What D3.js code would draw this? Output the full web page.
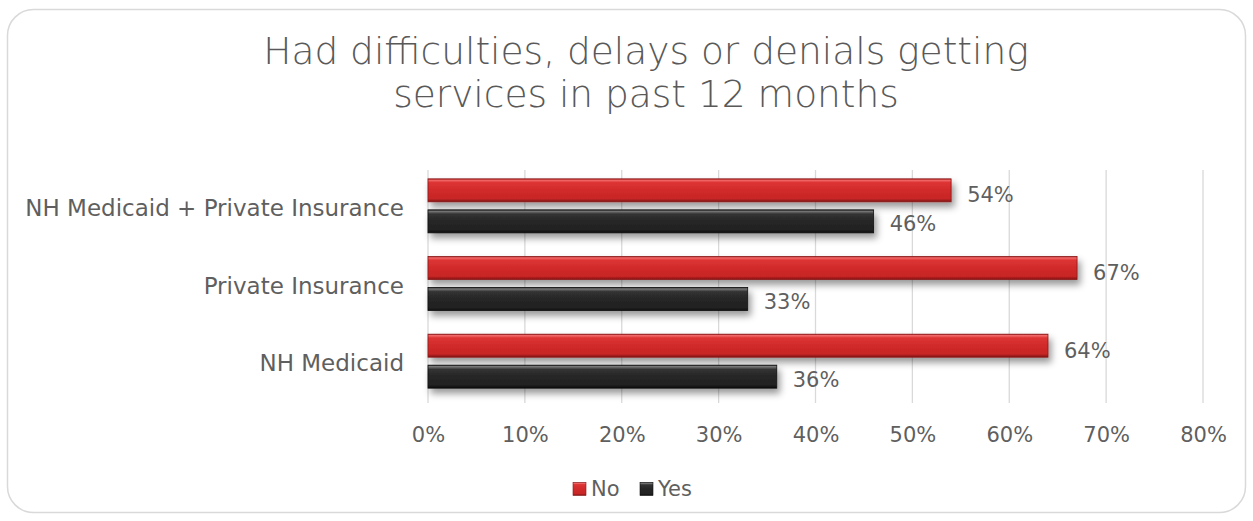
<!DOCTYPE html>
<html>
<head>
<meta charset="utf-8">
<script src="https://cdn.jsdelivr.net/npm/d3@7"></script>
<style>
  html, body { margin: 0; padding: 0; background: #fff; }
  svg { display: block; }
  text { font-family: "DejaVu Sans", "Liberation Sans", sans-serif; fill: #595959; }
</style>
</head>
<body>
<svg id="chart" width="1253" height="521"></svg>
<script>
// Survey responses by coverage type (share of respondents)
const categories = ["NH Medicaid + Private Insurance", "Private Insurance", "NH Medicaid"];
const seriesNames = ["No", "Yes"];
const noValues = [0.54, 0.67, 0.64];
const yesValues = [0.46, 0.33, 0.36];
const tickValues = [0, 0.1, 0.2, 0.3, 0.4, 0.5, 0.6, 0.7, 0.8];
const titleLines = ["Had difficulties, delays or denials getting", "services in past 12 months"];

const svg = d3.select("#chart");
const W = 1253, H = 521;

// Rounded chart frame
svg.append("rect")
  .attr("x", 7.5).attr("y", 9.5)
  .attr("width", W - 15).attr("height", H - 18)
  .attr("rx", 26).attr("ry", 26)
  .attr("fill", "#fff").attr("stroke", "#d9d9d9").attr("stroke-width", 1.5);

const defs = svg.append("defs");
function barGradient(id, stops) {
  const g = defs.append("linearGradient").attr("id", id)
    .attr("x1", 0).attr("y1", 0).attr("x2", 0).attr("y2", 1);
  stops.forEach(([o, c]) => g.append("stop").attr("offset", o).attr("stop-color", c));
}
barGradient("gNo", [[0, "#a81c1c"], [0.06, "#f26a6a"], [0.16, "#dd3434"], [0.5, "#d12a2a"], [0.86, "#c82626"], [1, "#7d1414"]]);
barGradient("gYes", [[0, "#1a1a1a"], [0.06, "#7a7a7a"], [0.18, "#333"], [0.5, "#262626"], [0.86, "#222"], [1, "#0d0d0d"]]);

const shadow = defs.append("filter").attr("id", "shadow")
  .attr("x", "-5%").attr("y", "-30%").attr("width", "115%").attr("height", "190%");
shadow.append("feDropShadow").attr("dx", 3).attr("dy", 5).attr("stdDeviation", 3.5)
  .attr("flood-color", "#000").attr("flood-opacity", 0.4);

const x = d3.scaleLinear().domain([0, 0.8]).range([428, 1203]);
const y = d3.scaleBand().domain(categories).range([170, 403]).paddingInner(0).paddingOuter(0);
const inner = d3.scaleBand().domain(seriesNames).range([-30, 24]).paddingInner(0.258);

// Title
svg.append("g").selectAll("text").data(titleLines).join("text")
  .attr("x", 646).attr("y", (d, i) => 64 + i * 43)
  .attr("text-anchor", "middle")
  .style("font-size", "37.5px").style("font-weight", 300)
  .text(d => d);

// Vertical gridlines
svg.append("g").selectAll("line").data(tickValues).join("line")
  .attr("x1", d => x(d)).attr("x2", d => x(d))
  .attr("y1", 170).attr("y2", 403)
  .attr("stroke", "#d9d9d9").attr("stroke-width", 1.3);

// X axis labels
const xAxis = d3.axisBottom(x).tickValues(tickValues).tickFormat(d3.format(".0%")).tickSize(0).tickPadding(0);
const gx = svg.append("g").attr("transform", "translate(0,435)").call(xAxis);
gx.select(".domain").remove();
gx.selectAll("text").style("font-size", "21px").style("fill", "#5f5f5f")
  .style("font-family", "DejaVu Sans, sans-serif").attr("dy", "0.35em").attr("y", 0);

// Category labels
const yAxis = d3.axisLeft(y).tickSize(0).tickPadding(0);
const gy = svg.append("g").attr("transform", "translate(404,-1)").call(yAxis);
gy.select(".domain").remove();
gy.selectAll("text").style("font-size", "23px").style("fill", "#5f5f5f")
  .style("font-family", "DejaVu Sans, sans-serif").attr("dy", "0.35em");

// Bars
const rows = categories.map((c, i) => ({ cat: c, vals: [
  { s: "No", v: noValues[i], fill: "url(#gNo)", stroke: "#8c1a1a" },
  { s: "Yes", v: yesValues[i], fill: "url(#gYes)", stroke: "#111" }
]}));
const groups = svg.append("g").selectAll("g").data(rows).join("g")
  .attr("transform", d => `translate(0,${y(d.cat) + y.bandwidth() / 2})`);

groups.selectAll("rect").data(d => d.vals).join("rect")
  .attr("x", x(0)).attr("y", d => inner(d.s))
  .attr("width", d => x(d.v) - x(0)).attr("height", inner.bandwidth())
  .attr("fill", d => d.fill).attr("stroke", d => d.stroke).attr("stroke-width", 0.8)
  .attr("filter", "url(#shadow)");

groups.selectAll("text").data(d => d.vals).join("text")
  .attr("x", d => x(d.v) + 16)
  .attr("y", d => inner(d.s) + inner.bandwidth() / 2 + (d.s === "No" ? 4.5 : 2.5))
  .attr("dy", "0.35em")
  .style("font-size", "21px").style("fill", "#5f5f5f")
  .text(d => d3.format(".0%")(d.v));

// Legend
const legendColors = { No: "url(#gNo)", Yes: "url(#gYes)" };
const lg = svg.append("g").attr("transform", "translate(573,489)");
const items = [{ s: "No", dx: 0 }, { s: "Yes", dx: 67 }];
const li = lg.selectAll("g").data(items).join("g").attr("transform", d => `translate(${d.dx},0)`);
li.append("rect").attr("x", 0).attr("y", -6.5).attr("width", 13).attr("height", 13)
  .attr("fill", d => legendColors[d.s]).attr("stroke", d => d.s === "No" ? "#8c1a1a" : "#111").attr("stroke-width", 0.6);
li.append("text").attr("x", 18).attr("y", 0).attr("dy", "0.35em")
  .style("font-size", "21px").style("fill", "#5f5f5f").text(d => d.s);
</script>
</body>
</html>
